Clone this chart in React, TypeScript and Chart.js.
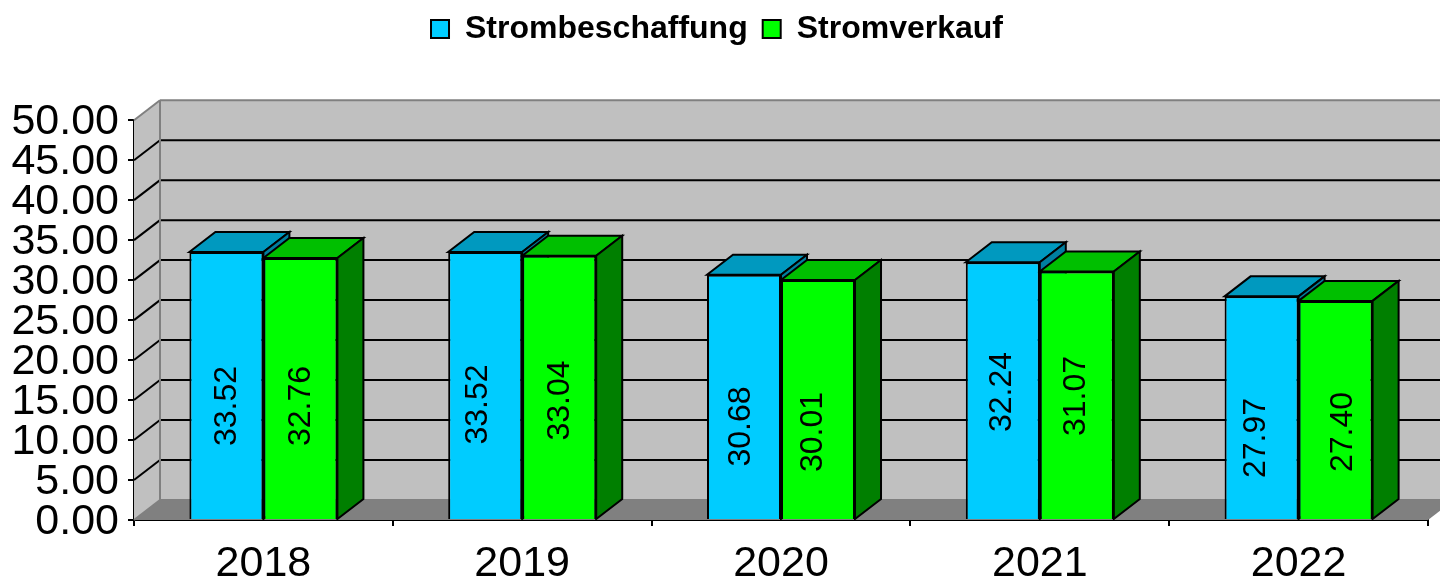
import React, { useEffect, useRef } from "react";
import { Chart, registerables } from "chart.js";

Chart.register(...registerables);

const years = ["2018", "2019", "2020", "2021", "2022"];
const strombeschaffung = [33.52, 33.52, 30.68, 32.24, 27.97];
const stromverkauf = [32.76, 33.04, 30.01, 31.07, 27.4];
const beschaffungLabelCentres = [14.25, 14.44, 11.69, 16.0, 10.25];
const verkaufLabelCentres = [14.25, 14.94, 11.0, 15.5, 11.0];

const FONT = '"Liberation Sans", Arial, sans-serif';
const DX = 26;
const DY = 20;
const labelShifts = [
  [-1, -9.5, -4.5, -3, -7.5],
  [-1, -1, -6.5, -2.5, 6],
];

const poly = (ctx: CanvasRenderingContext2D, pts: number[][], fill: string | null, stroke: string | null, lw = 2) => {
  ctx.beginPath();
  pts.forEach((p, i) => (i ? ctx.lineTo(p[0], p[1]) : ctx.moveTo(p[0], p[1])));
  ctx.closePath();
  if (fill) {
    ctx.fillStyle = fill;
    ctx.fill();
  }
  if (stroke) {
    ctx.strokeStyle = stroke;
    ctx.lineWidth = lw;
    ctx.stroke();
  }
};

const line = (ctx: CanvasRenderingContext2D, x1: number, y1: number, x2: number, y2: number, color: string, lw = 2) => {
  ctx.beginPath();
  ctx.moveTo(x1, y1);
  ctx.lineTo(x2, y2);
  ctx.strokeStyle = color;
  ctx.lineWidth = lw;
  ctx.stroke();
};

const topColors = ["#0099bf", "#00bf00"];
const sideColors = ["#007f9f", "#007f00"];

const box3d = {
  id: "box3d",
  afterLayout(chart: any) {
    chart.legend.left += 3;
    chart.legend.right += 3;
    chart.legend.top -= 2;
    chart.legend.bottom -= 2;
  },
  beforeDraw(chart: any) {
    chart.scales.y.getLabelItems().forEach((item: any) => {
      item.options.translation = [item.options.translation[0], item.options.translation[1] + 2];
    });
  },
  beforeDatasetsDraw(chart: any) {
    const { ctx, chartArea: a } = chart;
    const y = chart.scales.y;
    const L = a.left;
    const R = a.right;
    const B = a.bottom;
    const T = a.top;
    ctx.save();
    poly(ctx, [[L + DX, T - DY], [R + DX, T - DY], [R + DX, B - DY], [L + DX, B - DY]], "#c0c0c0", null);
    poly(ctx, [[L, T], [L + DX, T - DY], [L + DX, B - DY], [L, B]], "#c0c0c0", null);
    poly(ctx, [[L, B], [L + DX, B - DY], [R + DX, B - DY], [R, B]], "#808080", null);
    y.ticks.forEach((t: any) => {
      const py = y.getPixelForValue(t.value);
      const edge = t.value === 0 || t.value === 50;
      const c = edge ? "#808080" : "#000000";
      line(ctx, L, py, L + DX, py - DY, c);
      line(ctx, L + DX, py - DY, R + DX, py - DY, c);
    });
    line(ctx, L + DX, T - DY, L + DX, B - DY, "#808080");
    chart.data.datasets.forEach((_: any, di: number) => {
      chart.getDatasetMeta(di).data.forEach((el: any) => {
        const half = el.width / 2;
        const x0 = el.x - half;
        const x1 = el.x + half;
        poly(ctx, [[x0, el.y], [x0 + DX, el.y - DY], [x1 + DX, el.y - DY], [x1, el.y]], topColors[di], "#000000");
        poly(ctx, [[x1, el.y], [x1 + DX, el.y - DY], [x1 + DX, el.base - DY], [x1, el.base]], sideColors[di], "#000000");
      });
    });
    ctx.restore();
  },
  afterDatasetsDraw(chart: any) {
    const { ctx } = chart;
    const y = chart.scales.y;
    const centres = [beschaffungLabelCentres, verkaufLabelCentres];
    ctx.save();
    ctx.font = `32px ${FONT}`;
    ctx.fillStyle = "#000000";
    ctx.textAlign = "center";
    ctx.textBaseline = "middle";
    chart.data.datasets.forEach((ds: any, di: number) => {
      chart.getDatasetMeta(di).data.forEach((el: any, i: number) => {
        ctx.save();
        ctx.translate(el.x + labelShifts[di][i], y.getPixelForValue(centres[di][i]));
        ctx.rotate(-Math.PI / 2);
        ctx.fillText(ds.data[i].toFixed(2), 0, 2);
        ctx.restore();
      });
    });
    ctx.restore();
  },
};

export default function App() {
  const ref = useRef<HTMLCanvasElement>(null);
  useEffect(() => {
    document.body.style.margin = "0";
    const chart = new Chart(ref.current as HTMLCanvasElement, {
      type: "bar",
      data: {
        labels: years,
        datasets: [
          { label: "Strombeschaffung", data: strombeschaffung, backgroundColor: "#00ccff", borderColor: "#000000", borderWidth: 2 },
          { label: "Stromverkauf", data: stromverkauf, backgroundColor: "#00ff00", borderColor: "#000000", borderWidth: 2 },
        ],
      },
      options: {
        animation: false,
        responsive: false,
        layout: { padding: { left: 0, right: 12, top: 0, bottom: 0 } },
        datasets: { bar: { categoryPercentage: 0.572, barPercentage: 1 } },
        plugins: {
          tooltip: { enabled: false },
          legend: {
            position: "top",
            labels: {
              color: "#000000",
              font: { family: FONT, size: 32, weight: "bold" },
              boxWidth: 18,
              boxHeight: 18,
              padding: 15,
            },
          },
          title: { display: true, text: " ", weight: 500, font: { size: 1 }, padding: { top: 62, bottom: 0 } },
        },
        scales: {
          x: {
            offset: true,
            afterFit: (s: any) => { s.height = 62; },
            grid: {
              drawOnChartArea: false,
              drawTicks: true,
              tickLength: 6,
              color: (c: any) => (c.index === years.length ? "rgba(0,0,0,0)" : "#000000"),
              lineWidth: 2,
              offset: true,
            },
            border: { display: true, color: "#000000", width: 2 },
            ticks: { color: "#000000", font: { family: FONT, size: 43, lineHeight: 1 }, padding: 17, maxRotation: 0 },
          },
          y: {
            min: 0,
            max: 50,
            afterFit: (s: any) => { s.width = 134; },
            grid: { drawOnChartArea: false, drawTicks: true, tickLength: 6, color: "#000000", lineWidth: 2 },
            border: { display: true, color: "#000000", width: 2 },
            ticks: {
              stepSize: 5,
              autoSkip: false,
              color: "#000000",
              padding: 9,
              font: { family: FONT, size: 43, lineHeight: 1 },
              callback: (v: any) => Number(v).toFixed(2),
            },
          },
        },
      },
      plugins: [box3d],
    } as any);
    return () => chart.destroy();
  }, []);
  return <canvas ref={ref} width={1440} height={582} style={{ display: "block", width: 1440, height: 582 }} />;
}
